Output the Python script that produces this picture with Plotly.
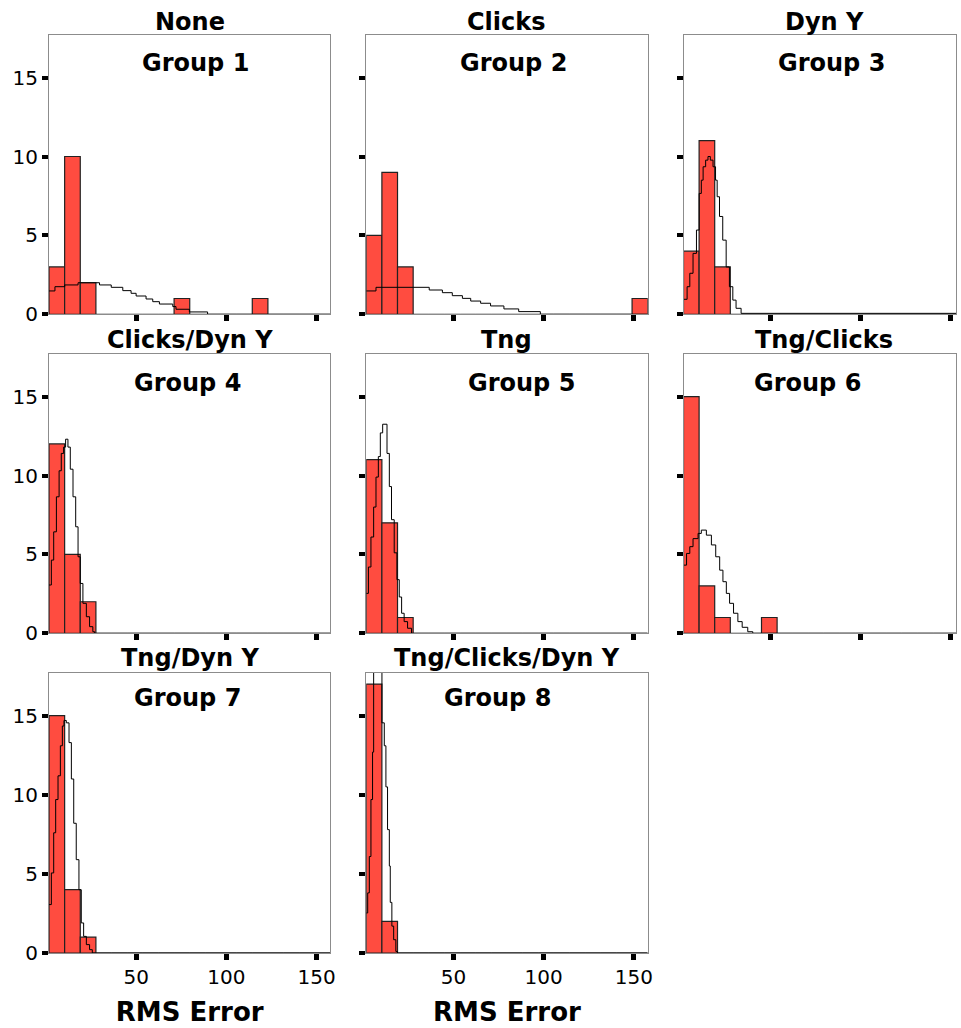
import plotly.graph_objects as go

# ---------------- data ----------------
panel_titles = ["None", "Clicks", "Dyn Y", "Clicks/Dyn Y", "Tng", "Tng/Clicks",
                "Tng/Dyn Y", "Tng/Clicks/Dyn Y"]
group_labels = ["Group 1", "Group 2", "Group 3", "Group 4", "Group 5", "Group 6",
                "Group 7", "Group 8"]

bin_start = 1.7
bin_width = 8.667

counts_g1 = [3, 10, 2, 0, 0, 0, 0, 0, 1, 0, 0, 0, 0, 1, 0, 0, 0, 0]
counts_g2 = [5, 9, 3, 0, 0, 0, 0, 0, 0, 0, 0, 0, 0, 0, 0, 0, 0, 1]
counts_g3 = [4, 11, 3, 0, 0, 0, 0, 0, 0, 0, 0, 0, 0, 0, 0, 0, 0, 0]
counts_g4 = [12, 5, 2, 0, 0, 0, 0, 0, 0, 0, 0, 0, 0, 0, 0, 0, 0, 0]
counts_g5 = [11, 7, 1, 0, 0, 0, 0, 0, 0, 0, 0, 0, 0, 0, 0, 0, 0, 0]
counts_g6 = [15, 3, 1, 0, 0, 1, 0, 0, 0, 0, 0, 0, 0, 0, 0, 0, 0, 0]
counts_g7 = [15, 4, 1, 0, 0, 0, 0, 0, 0, 0, 0, 0, 0, 0, 0, 0, 0, 0]
counts_g8 = [17, 2, 0, 0, 0, 0, 0, 0, 0, 0, 0, 0, 0, 0, 0, 0, 0, 0]

# fitted-density step curves
curve_x_g1 = [1.7, 5.0, 10.4, 17.8, 29.7, 36.2, 42.6, 47.2, 50.0, 55.5, 59.2, 62.9, 70.3, 72.1, 79.5, 89.6, 157.7]
curve_y_g1 = [1.48, 1.75, 1.86, 2.0, 1.86, 1.71, 1.5, 1.33, 1.16, 0.97, 0.8, 0.65, 0.49, 0.32, 0.15, 0, 0]
curve_x_g2 = [1.7, 7.1, 36.6, 43.9, 49.4, 55.0, 59.6, 65.1, 70.6, 78.0, 86.2, 98.2, 157.7]
curve_y_g2 = [1.48, 1.71, 1.54, 1.37, 1.18, 1.01, 0.84, 0.7, 0.53, 0.34, 0.17, 0, 0]
curve_x_g3 = [1.7, 3.7, 5.2, 7.0, 8.9, 10.4, 11.6, 12.6, 14.0, 15.3, 16.6, 18.1, 19.5, 20.4, 21.7, 23.5, 25.4, 27.2, 29.1, 30.9, 33.7, 157.7]
curve_y_g3 = [0.95, 1.75, 2.6, 3.86, 5.34, 7.66, 8.5, 9.35, 9.77, 10.0, 9.77, 9.35, 8.5, 7.45, 6.2, 4.7, 3.0, 1.75, 0.9, 0.38, 0.06, 0]
curve_x_g4 = [1.7, 3.0, 4.3, 5.8, 7.3, 8.5, 9.8, 10.9, 12.2, 13.5, 15.0, 16.5, 17.8, 19.0, 20.5, 22.4, 24.2, 26.0, 27.0, 157.7]
curve_y_g4 = [3.06, 4.64, 6.43, 8.65, 10.3, 11.4, 11.8, 12.3, 11.8, 10.4, 8.65, 6.75, 4.85, 3.16, 1.9, 1.05, 0.42, 0.1, 0, 0]
curve_x_g5 = [1.7, 2.9, 4.3, 5.8, 7.1, 8.4, 9.5, 10.8, 12.1, 13.2, 14.5, 15.7, 17.2, 18.7, 20.0, 21.3, 22.7, 24.6, 26.8, 157.7]
curve_y_g5 = [2.53, 4.2, 6.1, 8.0, 9.9, 11.2, 12.7, 13.25, 13.25, 11.4, 9.3, 7.2, 5.1, 3.4, 2.3, 1.27, 0.74, 0.32, 0, 0]
curve_x_g6 = [1.7, 3.4, 5.2, 7.0, 9.8, 11.6, 14.4, 17.2, 19.6, 21.8, 23.6, 25.5, 27.3, 29.5, 31.9, 34.3, 37.4, 40.2, 157.7]
curve_y_g6 = [4.32, 5.06, 5.49, 6.0, 6.33, 6.54, 6.22, 5.6, 4.85, 4.0, 3.27, 2.53, 1.9, 1.27, 0.74, 0.38, 0.1, 0, 0]
curve_x_g7 = [1.7, 3.0, 4.3, 5.4, 6.7, 8.0, 9.1, 10.0, 11.3, 12.8, 14.1, 15.4, 16.8, 18.3, 19.6, 20.9, 22.4, 24.2, 25.7, 157.7]
curve_y_g7 = [3.06, 5.06, 7.6, 9.7, 11.2, 13.1, 14.35, 14.7, 14.55, 13.3, 11.0, 8.2, 5.9, 4.0, 1.9, 1.05, 0.53, 0.21, 0, 0]
curve_x_g8 = [1.7, 2.5, 3.4, 4.3, 5.2, 5.8, 10.4, 11.7, 12.6, 13.5, 14.5, 15.0, 15.9, 16.9, 18.1, 19.0, 157.7]
curve_y_g8 = [2.53, 3.8, 6.1, 9.7, 12.7, 19.5, 14.55, 13.1, 10.5, 7.8, 5.5, 3.2, 1.7, 0.84, 0.1, 0, 0]

y_ticks = [0, 5, 10, 15]
x_ticks = [50, 100, 150]
x_title = "RMS Error"

counts = [counts_g1, counts_g2, counts_g3, counts_g4, counts_g5, counts_g6, counts_g7, counts_g8]
curves_x = [curve_x_g1, curve_x_g2, curve_x_g3, curve_x_g4, curve_x_g5, curve_x_g6, curve_x_g7, curve_x_g8]
curves_y = [curve_y_g1, curve_y_g2, curve_y_g3, curve_y_g4, curve_y_g5, curve_y_g6, curve_y_g7, curve_y_g8]

# ---------------- layout geometry ----------------
W, H = 961, 1028
ML, MT, MB, MR = 49, 35, 75, 0
PW = W - ML - MR
PH = H - MT - MB

col_px = [(49, 332), (368, 651), (687, 961)]
row_px = [(35, 314.3), (354, 633.3), (673, 953)]
x_ranges = [[1.7, 157.7], [1.7, 157.7], [1.7, 153.1]]
y_range = [0, 17.7]

def clamp(v):
    return max(0.0, min(1.0, v))

def fx(px):
    return (px - ML) / PW

def fy(py):
    return 1 - (py - MT) / PH

group_pos_px = [(196, 63), (516, 63), (836, 63), (188, 383), (524, 383), (812, 383),
                (188, 698), (500, 698)]
title_pos_px = [(190.5, 21.7), (509.5, 21.7), (828.5, 21.7),
                (190.5, 340), (509.5, 340), (828.5, 340),
                (190.5, 658), (509.5, 658)]

FONT = "DejaVu Sans"
bar_fill = "rgb(255,76,64)"

fig = go.Figure()
layout = dict(
    width=W, height=H,
    margin=dict(l=ML, r=MR, t=MT, b=MB, pad=0),
    paper_bgcolor="white", plot_bgcolor="white",
    showlegend=False,
    font=dict(family=FONT, color="black", size=20),
)
annotations = []

edges_left = [bin_start + i * bin_width for i in range(len(counts_g1))]
centers = [e + bin_width / 2 for e in edges_left]

for i in range(8):
    r, c = divmod(i, 3)
    idx = i + 1
    xa = "x" if idx == 1 else f"x{idx}"
    ya = "y" if idx == 1 else f"y{idx}"
    fig.add_trace(go.Bar(
        x=centers, y=counts[i], width=[bin_width] * len(centers),
        marker=dict(color=bar_fill, line=dict(color="#222222", width=1.2)),
        xaxis=xa, yaxis=ya, hoverinfo="skip",
    ))
    fig.add_trace(go.Scatter(
        x=curves_x[i], y=curves_y[i], mode="lines",
        line=dict(color="black", width=1, shape="hv"),
        xaxis=xa, yaxis=ya, hoverinfo="skip",
    ))
    x0, x1 = col_px[c]
    y0, y1 = row_px[r]
    xkey = "xaxis" if idx == 1 else f"xaxis{idx}"
    ykey = "yaxis" if idx == 1 else f"yaxis{idx}"
    bottom_row = i >= 6
    layout[xkey] = dict(
        domain=[clamp(fx(x0)), clamp(fx(x1))], anchor=ya, range=x_ranges[c],
        showgrid=False, zeroline=False, showline=True, linecolor="#8c8c8c",
        linewidth=1, mirror=True, ticks="outside", ticklen=6, tickwidth=5,
        tickcolor="black", tickvals=x_ticks, showticklabels=bottom_row,
        tickfont=dict(family=FONT, size=20, color="black"),
    )
    if bottom_row:
        layout[xkey]["title"] = dict(text=f"<b>{x_title}</b>",
                                     font=dict(family=FONT, size=26, color="black"),
                                     standoff=14)
    layout[ykey] = dict(
        domain=[clamp(fy(y1)), clamp(fy(y0))], anchor=xa, range=y_range,
        showgrid=False, zeroline=False, showline=True, linecolor="#8c8c8c",
        linewidth=1, mirror=True, ticks="outside", ticklen=6, tickwidth=4,
        tickcolor="black", tickvals=y_ticks, showticklabels=(c == 0),
        tickfont=dict(family=FONT, size=20, color="black"),
    )
    gx, gy = group_pos_px[i]
    annotations.append(dict(
        text=f"<b>{group_labels[i]}</b>", x=fx(gx), y=fy(gy), xref="paper", yref="paper",
        xanchor="center", yanchor="middle", showarrow=False,
        font=dict(family=FONT, size=24, color="black"),
    ))
    tx, ty = title_pos_px[i]
    annotations.append(dict(
        text=f"<b>{panel_titles[i]}</b>", x=fx(tx), y=fy(ty), xref="paper", yref="paper",
        xanchor="center", yanchor="middle", showarrow=False,
        font=dict(family=FONT, size=24, color="black"),
    ))

layout["annotations"] = annotations
fig.update_layout(**layout)

fig.write_html("out.html", config={"displayModeBar": False},
               post_script="document.body.style.margin='0';document.body.style.overflow='hidden';")
